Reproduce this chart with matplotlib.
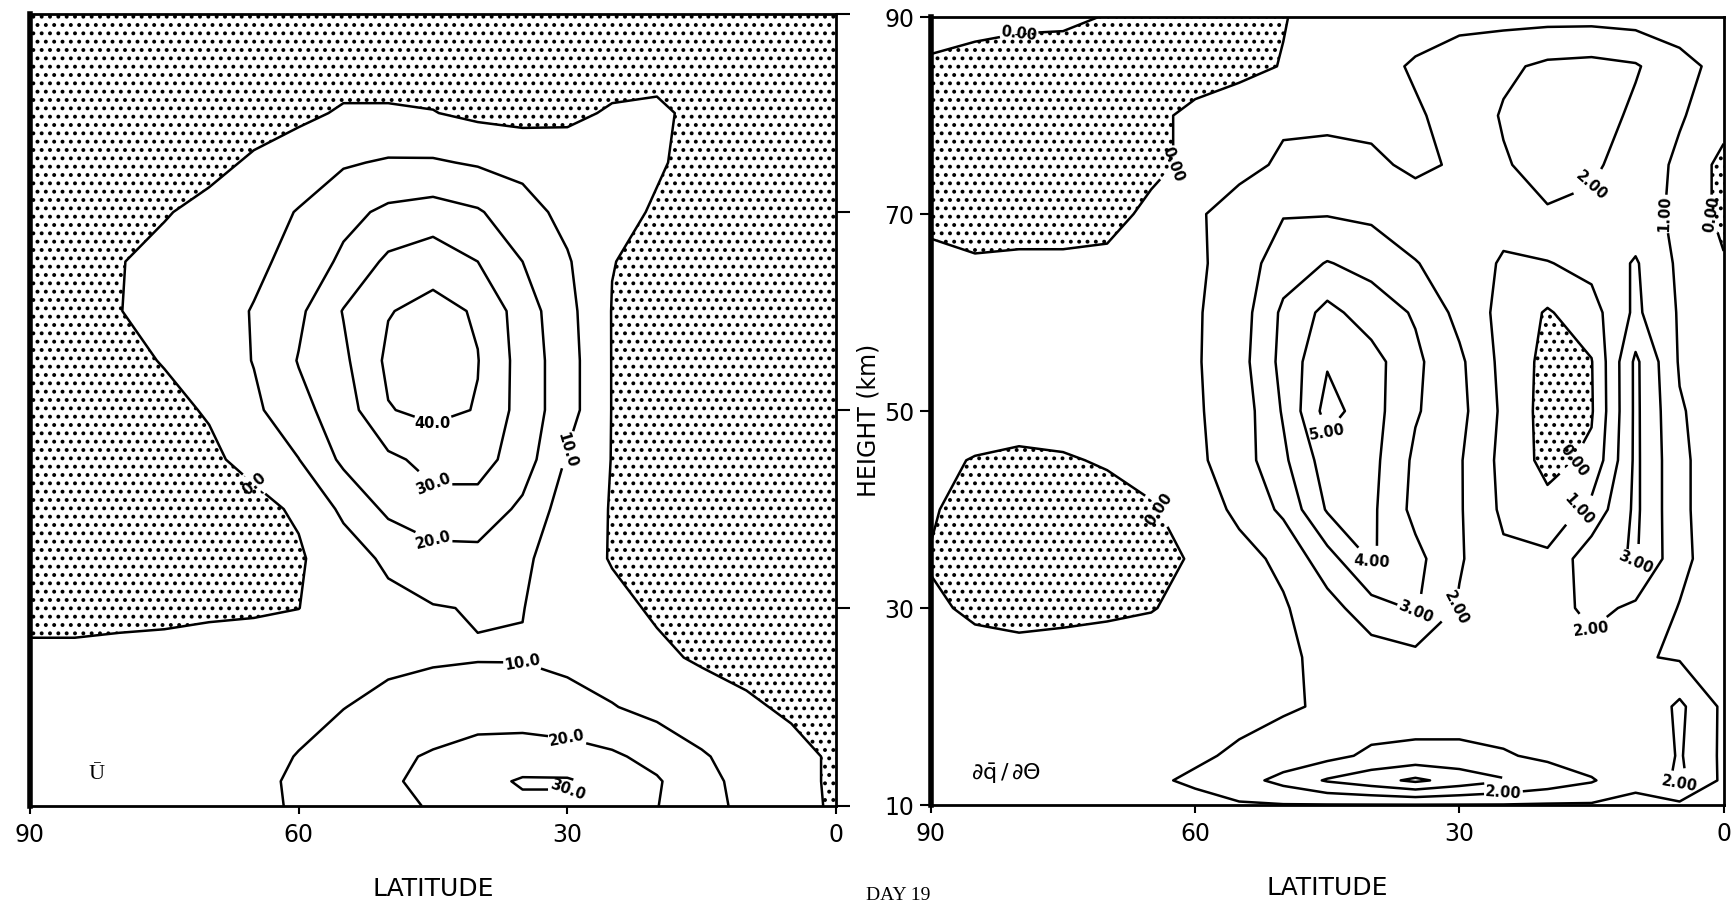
import numpy as np
import matplotlib
matplotlib.use("Agg")
import matplotlib.pyplot as plt

# latitude columns (deg) and height rows (km), rows listed top to bottom
lats = [90, 85, 80, 75, 70, 65, 60, 55, 50, 45, 40, 35, 30, 25, 20, 15, 10, 5, 0]
heights = [90, 85, 80, 75, 70, 65, 60, 55, 50, 45, 40, 35, 30, 25, 20, 15, 12.5, 10]

# U-bar (m/s)
u_bar = [
    [-5, -5, -5, -5, -5, -5, -5, -5, -5, -5, -5, -5, -5, -5, -5, -5, -5, -5, -5],
    [-4, -4, -4, -4, -4, -4, -4, -4, -4, -4, -4, -4, -4, -4, -4, -4, -4, -4, -4],
    [-5, -5, -5, -5, -4, -3, -2, 1, 1, 0.3, -2, -3, -2, 1, 2, -3, -5, -5, -5],
    [-5, -5, -4, -3, -2, 1, 5, 9, 11, 11, 9, 7, 5, 4, 1, -3, -4, -5, -5],
    [-5, -4, -3, -0.5, 2, 6, 10.5, 17, 22, 24, 21, 14, 7, 3, -1, -3, -4, -5, -5],
    [-4, -2, -0.3, 2, 5, 8, 13, 22, 32, 36, 30, 20, 11, 0.2, -2, -3, -4, -5, -5],
    [-4, -1.5, -0.2, 3, 6, 10.5, 18, 30.5, 39.5, 43, 39, 25, 13, -0.3, -3, -4, -4, -5, -5],
    [-3, -2, -1.5, 0.3, 4, 10.4, 20.5, 28, 42, 44, 40.3, 26, 14, -0.3, -3, -4, -4, -4, -4],
    [-2, -2, -2, -1.5, 0.5, 8, 17, 25, 39.5, 42.5, 39.5, 26, 14, -0.3, -3, -4, -4, -4, -4],
    [-2, -2, -2, -2, -1.2, 2, 9.8, 22, 28, 33, 34, 25, 9, -0.3, -3, -3, -4, -4, -4],
    [-2, -2, -2, -2, -2, -2, 1, 12, 22, 27, 26, 18, 5, -0.5, -3, -3, -3, -3, -3],
    [-2, -2, -2, -2, -2, -2, -1, 5, 12, 16, 17, 12, 4, -0.5, -2, -3, -3, -3, -3],
    [-1.5, -1.5, -1.5, -1.5, -1.2, -1, -0.1, 4, 7, 9.5, 10.5, 10.2, 6, 2, -1, -2.5, -3, -3, -3],
    [1, 1, 1.5, 2, 3, 4, 5, 6, 8, 9, 9.5, 9.5, 8, 5, 1.5, -1, -2, -2.5, -3],
    [2, 2.5, 3, 4, 5, 7, 8.5, 9.8, 12.5, 14, 15, 14.5, 13, 10.5, 7, 4, 1, -1, -2],
    [3, 4, 5, 6, 7, 8.5, 10.2, 14, 18, 21, 24, 25, 24, 21.5, 17, 11, 6, 2, -1],
    [3, 4, 5, 6, 7, 8.5, 11, 15, 19, 22, 27, 31, 31, 27, 21, 13, 7, 2, -1],
    [2, 3, 4, 5, 6, 8, 11, 14, 17, 21, 25, 28, 28, 25, 20.3, 13, 8, 2.5, -1],
]

# dq/dtheta
dq_dtheta = [
    [0.3, 0.3, 0.2, 0.2, -0.05, -0.4, -0.4, -0.2, -0.05, 0.4, 0.5, 0.6, 0.7, 0.7, 0.7, 0.7, 0.6, 0.5, 0.3],
    [-0.1, -0.3, -0.4, -0.5, -0.5, -0.5, -0.4, -0.3, 0.05, 0.5, 0.7, 1.1, 1.5, 1.8, 2.2, 2.3, 2.1, 1.3, 0.7],
    [-0.5, -0.6, -0.6, -0.6, -0.5, -0.2, 0.2, 0.6, 0.8, 0.8, 0.8, 0.9, 1.3, 2.1, 2.5, 2.5, 1.8, 1.1, 0.4],
    [-0.6, -0.6, -0.6, -0.6, -0.5, -0.2, 0.2, 0.6, 1.2, 1.3, 1.15, 0.85, 1.1, 1.9, 2.4, 2.15, 1.6, 0.8, -0.3],
    [-0.1, -0.4, -0.5, -0.5, -0.3, 0.2, 0.8, 1.6, 1.95, 1.95, 1.8, 1.4, 1.3, 1.3, 1.9, 1.8, 1.4, 0.8, -0.3],
    [0.1, 0.1, 0.2, 0.2, 0.2, 0.3, 0.8, 1.5, 2.5, 3.05, 2.7, 2.05, 1.5, 0.9, 0.95, 1.3, 2.1, 0.8, 0.1],
    [0.3, 0.3, 0.4, 0.5, 0.6, 0.8, 0.9, 1.5, 3.2, 4.3, 3.5, 2.9, 1.7, 0.7, -0.1, 0.6, 2.2, 0.9, 0.5],
    [0.4, 0.5, 0.6, 0.6, 0.7, 0.8, 0.9, 1.6, 3.3, 4.9, 4.4, 3.2, 2.2, 0.7, -0.3, -0.05, 3.2, 0.9, 0.5],
    [0.6, 0.5, 0.5, 0.5, 0.6, 0.7, 0.9, 1.4, 3.1, 5.4, 4.4, 3.1, 2.3, 0.8, -0.4, -0.1, 3.2, 1.1, 0.4],
    [0.2, -0.05, -0.2, -0.1, 0.1, 0.4, 0.8, 1.5, 2.8, 4.5, 4.3, 2.8, 2.1, 0.7, -0.3, 0.2, 3.2, 1.2, 0.4],
    [0.1, -0.4, -0.5, -0.5, -0.4, -0.1, 0.5, 1.2, 2.2, 4.1, 4.2, 2.7, 2.1, 0.8, 0.3, 1.3, 3.2, 1.2, 0.4],
    [-0.05, -0.5, -0.6, -0.6, -0.5, -0.3, 0.1, 0.7, 1.2, 2.6, 4.1, 3.3, 2.1, 1.2, 1.2, 2.6, 3.1, 1.3, 0.3],
    [0.1, -0.1, -0.2, -0.2, -0.15, -0.05, 0.3, 0.6, 0.9, 1.6, 2.6, 3.1, 1.9, 1.2, 1.5, 2.3, 1.8, 0.95, 0.4],
    [0.3, 0.2, 0.2, 0.3, 0.4, 0.5, 0.6, 0.7, 0.85, 1.2, 1.5, 1.7, 1.6, 1.3, 1.3, 1.6, 1.1, 0.9, 0.4],
    [0.4, 0.4, 0.45, 0.5, 0.55, 0.6, 0.7, 0.8, 0.9, 1.1, 1.3, 1.4, 1.4, 1.4, 1.4, 1.3, 1.1, 2.2, 0.8],
    [0.5, 0.5, 0.55, 0.6, 0.7, 0.8, 0.9, 1.1, 1.4, 1.7, 2.2, 2.3, 2.3, 2.1, 1.8, 1.4, 1.1, 2.1, 0.8],
    [0.5, 0.5, 0.6, 0.7, 0.8, 0.9, 1.1, 1.6, 2.3, 3.1, 3.6, 4.2, 3.6, 3.1, 2.6, 2.1, 1.2, 2.2, 0.8],
    [0.4, 0.4, 0.5, 0.5, 0.6, 0.7, 0.8, 0.9, 0.95, 0.95, 0.95, 0.95, 0.95, 0.95, 0.9, 0.9, 0.8, 0.8, 0.5],
]

u_levels = [0, 10, 20, 30, 40]
q_levels = [0, 1, 2, 3, 4, 5]
lat_ticks = [90, 60, 30, 0]
height_ticks = [10, 30, 50, 70, 90]

plt.rcParams["hatch.linewidth"] = 1.6
plt.rcParams["hatch.color"] = "black"
plt.rcParams["mathtext.fontset"] = "dejavusans"

fig = plt.figure(figsize=(17.33, 9.08), dpi=100)
ax1 = fig.add_axes([0.0173, 0.1123, 0.4651, 0.8722])
ax2 = fig.add_axes([0.5372, 0.1134, 0.4574, 0.8678])


def draw_panel(ax, field, levels, fmt):
    z = np.array(field, dtype=float)
    # stipple the negative region
    ax.contourf(lats, heights, z, levels=[-100, 0], colors="none", hatches=[".."])
    cs = ax.contour(lats, heights, z, levels=levels, colors="black", linewidths=1.8)
    ax.clabel(cs, fmt=fmt, fontsize=10.5, inline=True, inline_spacing=3)
    for t in cs.labelTexts:
        t.set_fontweight("bold")
    ax.set_xlim(90, 0)
    ax.set_ylim(10, 90)
    ax.set_xticks(lat_ticks)
    ax.set_xticklabels([str(v) for v in lat_ticks], fontsize=17)
    ax.tick_params(axis="x", direction="out", length=6, width=1.5, pad=6)
    ax.set_xlabel("LATITUDE", fontsize=18, labelpad=22)
    for side in ["top", "right", "bottom"]:
        ax.spines[side].set_linewidth(2)
    ax.spines["left"].set_linewidth(4)
    return cs


cs1 = draw_panel(ax1, u_bar, u_levels, "%.1f")
ax1.yaxis.tick_right()
ax1.set_yticks(height_ticks)
ax1.set_yticklabels([])
ax1.tick_params(axis="y", direction="out", length=10, width=1.5)
ax1.text(0.082, 0.04, "Ū", transform=ax1.transAxes, fontsize=16,
         family="Liberation Serif", ha="center", va="center")

cs2 = draw_panel(ax2, dq_dtheta, q_levels, "%.2f")
ax2.set_yticks(height_ticks)
ax2.set_yticklabels([str(v) for v in height_ticks], fontsize=17)
ax2.tick_params(axis="y", direction="out", length=8, width=1.5, pad=4)
ax2.text(0.095, 0.04, r"$\partial\bar{\mathrm{q}}\,/\,\partial\Theta$",
         transform=ax2.transAxes, fontsize=16, ha="center", va="center")

fig.text(0.501, 0.537, "HEIGHT (km)", rotation=90, fontsize=17,
         ha="center", va="center")
fig.text(0.518, 0.014, "DAY 19", fontsize=14, family="Liberation Serif",
         ha="center", va="center")

# drop contour labels that would sit on top of one another
fig.canvas.draw()
renderer = fig.canvas.get_renderer()
for cs in (cs1, cs2):
    kept = []
    for t in list(cs.labelTexts):
        bb = t.get_window_extent(renderer)
        if any(bb.overlaps(k) for k in kept):
            t.set_visible(False)
        else:
            kept.append(bb)

fig.savefig("out.png", dpi=100)
